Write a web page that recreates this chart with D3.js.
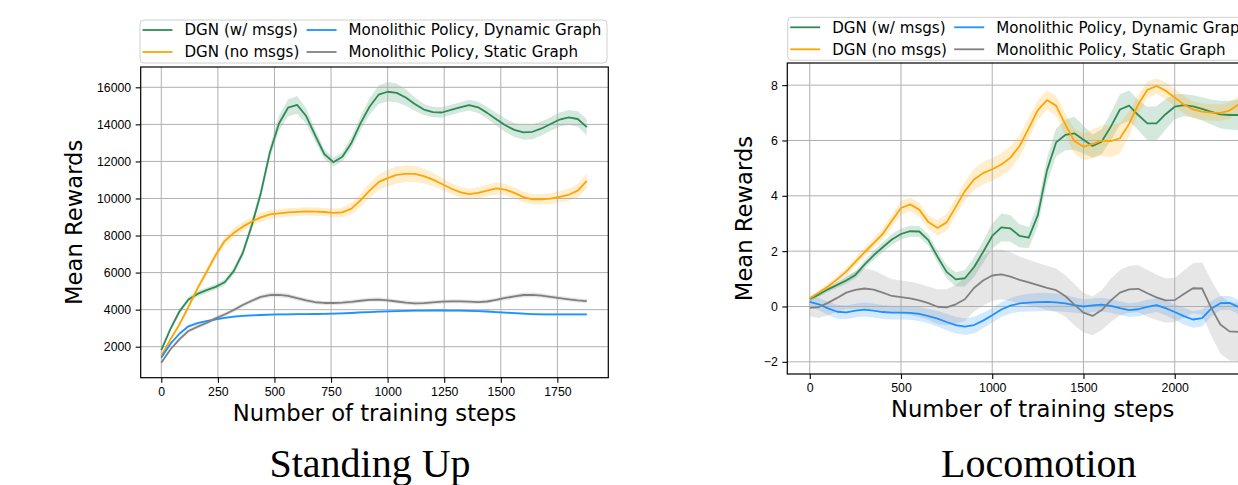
<!DOCTYPE html>
<html lang="en">
<head>
<meta charset="utf-8">
<title>DGN training curves</title>
<style>
    body {
        margin: 0;
        background: #fff;
        overflow: hidden;
    }
    svg {
        display: block;
        font-family: "DejaVu Sans", sans-serif;
    }
    .axis .tick text {
        font-size: 12.3px;
        fill: #000;
    }
    .axis .tick line {
        stroke: #000;
        stroke-width: 1.1;
    }
    .grid line {
        stroke: #b0b0b0;
        stroke-width: 1;
    }
    .label {
        font-size: 22.7px;
        fill: #000;
    }
    .title {
        font-family: "Liberation Serif", "Times New Roman", serif;
        font-size: 40px;
        fill: #000;
    }
    .legend text {
        font-size: 15.1px;
        fill: #000;
    }
</style>
</head>
<body>
<script src="https://cdn.jsdelivr.net/npm/d3@7"></script>
<script>
    // legend / series
    var seriesNames = ["DGN (w/ msgs)", "DGN (no msgs)", "Monolithic Policy, Dynamic Graph", "Monolithic Policy, Static Graph"];
    var seriesColors = ["#2e8b57", "#ffa500", "#1e90ff", "#808080"];

    // Standing Up: one point every 40 steps, 0..1880
    var standSteps = d3.range(0, 1881, 40);
    var standGreen = [1820, 2950, 3900, 4550, 4850, 5050, 5230, 5480, 6080, 7060, 8550, 10300, 12500, 14050, 14900, 15050,
        14450, 13400, 12400, 11960, 12250, 13000, 14050, 14950, 15600, 15760, 15700, 15450, 15100, 14800, 14660, 14640,
        14780, 14920, 15040, 14920, 14620, 14280, 13950, 13700, 13570, 13600, 13780, 14020, 14260, 14380, 14290, 13850];
    var standGreenSd = [100, 120, 140, 150, 150, 150, 150, 160, 180, 220, 260, 300, 340, 400, 460, 480,
        420, 330, 260, 240, 260, 320, 380, 440, 500, 520, 500, 440, 360, 300, 280, 280,
        280, 280, 290, 300, 320, 340, 360, 380, 400, 400, 380, 370, 380, 400, 420, 440];
    var standOrange = [1500, 2380, 3200, 4150, 5150, 6030, 6940, 7700, 8140, 8480, 8760, 8980, 9140, 9200, 9250, 9280,
        9300, 9290, 9270, 9220, 9250, 9450, 9900, 10420, 10880, 11100, 11270, 11330, 11330, 11210, 11020, 10780,
        10540, 10340, 10240, 10300, 10430, 10540, 10480, 10300, 10070, 9950, 9950, 9990, 10090, 10200, 10420, 10950];
    var standOrangeSd = [80, 100, 120, 140, 160, 180, 200, 220, 240, 250, 250, 250, 240, 230, 220, 220,
        220, 220, 220, 230, 260, 300, 340, 380, 420, 450, 460, 460, 440, 400, 360, 320,
        300, 290, 290, 300, 310, 320, 310, 300, 290, 280, 280, 290, 300, 320, 360, 420];
    var standBlue = [1400, 2150, 2700, 3100, 3270, 3380, 3480, 3560, 3620, 3660, 3690, 3710, 3730, 3740, 3750, 3755,
        3760, 3765, 3770, 3780, 3795, 3820, 3850, 3870, 3890, 3910, 3925, 3935, 3945, 3950, 3955, 3955,
        3950, 3945, 3935, 3920, 3900, 3870, 3840, 3810, 3780, 3760, 3750, 3745, 3740, 3740, 3740, 3740];
    var standBlueSd = [50, 60, 60, 60, 60, 60, 60, 60, 60, 60, 60, 60, 60, 60, 60, 60,
        60, 60, 60, 60, 60, 60, 60, 60, 60, 60, 60, 60, 60, 60, 60, 60,
        60, 60, 60, 60, 60, 60, 60, 60, 60, 60, 60, 60, 60, 60, 60, 60];
    var standGray = [1140, 1850, 2400, 2850, 3080, 3280, 3530, 3740, 3980, 4250, 4480, 4690, 4790, 4800, 4740, 4620,
        4500, 4400, 4360, 4360, 4380, 4420, 4480, 4530, 4540, 4500, 4440, 4380, 4340, 4350, 4390, 4430,
        4450, 4450, 4430, 4410, 4440, 4530, 4630, 4720, 4790, 4800, 4760, 4690, 4620, 4560, 4500, 4460];
    var standGraySd = [90, 100, 110, 110, 110, 110, 110, 110, 120, 120, 120, 120, 130, 130, 130, 120,
        120, 110, 110, 110, 110, 110, 110, 110, 110, 110, 110, 110, 110, 110, 110, 110,
        110, 110, 110, 110, 110, 110, 120, 120, 130, 130, 120, 120, 110, 110, 110, 110];

    // Locomotion: one point every 50 steps, 0..2450
    var locoSteps = d3.range(0, 2451, 50);
    var locoGreen = [0.27, 0.43, 0.62, 0.78, 0.94, 1.14, 1.51, 1.85, 2.14, 2.42, 2.62, 2.72, 2.71, 2.40, 1.80, 1.25,
        0.98, 1.02, 1.42, 1.97, 2.55, 2.86, 2.82, 2.55, 2.49, 3.30, 4.92, 5.93, 6.20, 6.26, 6.03, 5.80,
        5.96, 6.50, 7.12, 7.26, 6.92, 6.62, 6.62, 6.95, 7.22, 7.28, 7.23, 7.14, 7.03, 6.94, 6.92, 6.92, 6.93, 6.95];
    var locoGreenSd = [0.08, 0.09, 0.10, 0.11, 0.12, 0.13, 0.15, 0.17, 0.18, 0.19, 0.20, 0.20, 0.20, 0.20, 0.22, 0.24,
        0.26, 0.30, 0.35, 0.40, 0.45, 0.50, 0.48, 0.42, 0.38, 0.40, 0.45, 0.50, 0.55, 0.60, 0.50, 0.42,
        0.45, 0.50, 0.55, 0.55, 0.55, 0.60, 0.62, 0.55, 0.45, 0.40, 0.40, 0.42, 0.45, 0.50, 0.52, 0.55, 0.55, 0.55];
    var locoOrange = [0.29, 0.51, 0.72, 0.98, 1.26, 1.61, 1.96, 2.29, 2.62, 3.10, 3.56, 3.69, 3.50, 3.05, 2.84, 3.04,
        3.60, 4.17, 4.59, 4.82, 4.96, 5.13, 5.38, 5.80, 6.44, 7.10, 7.46, 7.26, 6.58, 5.98, 5.77, 5.88,
        5.99, 5.98, 6.08, 6.60, 7.30, 7.83, 7.97, 7.80, 7.55, 7.30, 7.12, 7.04, 7.01, 7.00, 7.08, 7.30, 7.45, 7.55];
    var locoOrangeSd = [0.06, 0.08, 0.10, 0.12, 0.14, 0.15, 0.17, 0.18, 0.20, 0.22, 0.25, 0.25, 0.25, 0.25, 0.28, 0.30,
        0.32, 0.35, 0.38, 0.40, 0.42, 0.42, 0.42, 0.40, 0.38, 0.36, 0.35, 0.36, 0.40, 0.45, 0.48, 0.52,
        0.55, 0.58, 0.55, 0.45, 0.35, 0.30, 0.28, 0.30, 0.32, 0.32, 0.30, 0.30, 0.30, 0.30, 0.30, 0.30, 0.30, 0.30];
    var locoBlue = [0.17, 0.08, -0.07, -0.19, -0.21, -0.15, -0.11, -0.15, -0.20, -0.22, -0.22, -0.23, -0.27, -0.35, -0.44, -0.56,
        -0.67, -0.73, -0.67, -0.51, -0.32, -0.11, 0.03, 0.11, 0.14, 0.16, 0.17, 0.15, 0.11, 0.05, 0.00, 0.04,
        0.07, 0.02, -0.06, -0.13, -0.10, -0.01, 0.05, -0.06, -0.20, -0.35, -0.47, -0.42, -0.08, 0.12, 0.13, -0.02, -0.10, -0.12];
    var locoBlueSd = [0.20, 0.22, 0.24, 0.25, 0.25, 0.25, 0.25, 0.25, 0.25, 0.25, 0.25, 0.25, 0.25, 0.26, 0.28, 0.30,
        0.30, 0.30, 0.30, 0.28, 0.26, 0.26, 0.28, 0.30, 0.32, 0.33, 0.33, 0.32, 0.30, 0.28, 0.26, 0.25,
        0.25, 0.25, 0.25, 0.25, 0.25, 0.25, 0.25, 0.26, 0.28, 0.30, 0.30, 0.30, 0.28, 0.26, 0.25, 0.25, 0.25, 0.25];
    var locoGray = [-0.05, -0.02, 0.13, 0.31, 0.50, 0.60, 0.65, 0.61, 0.50, 0.38, 0.34, 0.29, 0.22, 0.12, -0.01, -0.03,
        0.08, 0.26, 0.67, 0.94, 1.12, 1.16, 1.08, 0.96, 0.87, 0.77, 0.67, 0.59, 0.38, 0.07, -0.22, -0.34,
        -0.13, 0.22, 0.50, 0.62, 0.64, 0.48, 0.33, 0.22, 0.23, 0.45, 0.66, 0.65, -0.05, -0.65, -0.90, -0.92, -0.85, -0.80];
    var locoGraySd = [0.30, 0.40, 0.45, 0.50, 0.60, 0.68, 0.72, 0.70, 0.65, 0.60, 0.60, 0.60, 0.60, 0.60, 0.62, 0.65,
        0.70, 0.78, 0.85, 0.90, 0.92, 0.90, 0.88, 0.85, 0.82, 0.80, 0.80, 0.78, 0.75, 0.75, 0.72, 0.70,
        0.72, 0.78, 0.82, 0.85, 0.85, 0.85, 0.82, 0.80, 0.80, 0.85, 0.90, 0.95, 1.00, 1.05, 1.05, 1.05, 1.05, 1.05];

    // ticks (the 2500 tick of Locomotion lies past the picture's right edge)
    var standXTicks = [0, 250, 500, 750, 1000, 1250, 1500, 1750];
    var standYTicks = [2000, 4000, 6000, 8000, 10000, 12000, 14000, 16000];
    var locoXTicks = [0, 500, 1000, 1500, 2000];
    var locoYTicks = [-2, 0, 2, 4, 6, 8];

    var svg = d3.select("body").append("svg")
        .attr("width", 1238)
        .attr("height", 485);

    function drawPanel(p) {
        var x = d3.scaleLinear().domain(p.xDomain).range([p.left, p.right]);
        var y = d3.scaleLinear().domain(p.yDomain).range([p.bottom, p.top]);
        var g = svg.append("g");

        var series = p.means.map(function(m, k) {
            return p.steps.map(function(s, i) {
                return { x: s, y: m[i], sd: p.sds[k][i] };
            });
        });

        var area = d3.area()
            .x(function(d) { return x(d.x); })
            .y0(function(d) { return y(d.y - d.sd); })
            .y1(function(d) { return y(d.y + d.sd); });

        var line = d3.line()
            .x(function(d) { return x(d.x); })
            .y(function(d) { return y(d.y); });

        g.selectAll(".band")
            .data(series)
            .enter().append("path")
            .attr("class", "band")
            .attr("d", area)
            .style("fill", function(d, i) { return seriesColors[i]; })
            .style("fill-opacity", 0.2)
            .style("stroke", "none");

        // grid above the bands, below the lines
        var grid = g.append("g").attr("class", "grid");
        grid.selectAll(".gx")
            .data(p.xTicks)
            .enter().append("line")
            .attr("x1", function(d) { return x(d); })
            .attr("x2", function(d) { return x(d); })
            .attr("y1", p.top)
            .attr("y2", p.bottom);
        grid.selectAll(".gy")
            .data(p.yTicks)
            .enter().append("line")
            .attr("x1", p.left)
            .attr("x2", p.right)
            .attr("y1", function(d) { return y(d); })
            .attr("y2", function(d) { return y(d); });

        g.selectAll(".curve")
            .data(series)
            .enter().append("path")
            .attr("class", "curve")
            .attr("d", line)
            .style("fill", "none")
            .style("stroke", function(d, i) { return seriesColors[i]; })
            .style("stroke-width", 1.8)
            .style("stroke-linejoin", "round");

        var xAxis = d3.axisBottom(x).tickValues(p.xTicks).tickSize(5).tickPadding(4.5).tickFormat(d3.format("d"));
        var yAxis = d3.axisLeft(y).tickValues(p.yTicks).tickSize(5).tickPadding(4.5).tickFormat(d3.format("d"));

        g.append("g")
            .attr("class", "axis")
            .attr("transform", "translate(0," + p.bottom + ")")
            .call(xAxis)
            .call(function(a) { a.select(".domain").remove(); });

        g.append("g")
            .attr("class", "axis")
            .attr("transform", "translate(" + p.left + ",0)")
            .call(yAxis)
            .call(function(a) { a.select(".domain").remove(); });

        g.append("rect")
            .attr("x", p.left)
            .attr("y", p.top)
            .attr("width", p.right - p.left)
            .attr("height", p.bottom - p.top)
            .style("fill", "none")
            .style("stroke", "#000")
            .style("stroke-width", 1.2);

        g.append("text")
            .attr("class", "label")
            .attr("x", (p.left + p.right) / 2)
            .attr("y", p.bottom + 43)
            .attr("text-anchor", "middle")
            .text("Number of training steps");

        g.append("text")
            .attr("class", "label")
            .attr("transform", "translate(" + (p.left - p.yLabelGap) + "," + ((p.top + p.bottom) / 2) + ") rotate(-90)")
            .attr("text-anchor", "middle")
            .text("Mean Rewards");

        g.append("text")
            .attr("class", "title")
            .attr("x", p.titleX)
            .attr("y", 476.5)
            .attr("text-anchor", "middle")
            .text(p.title);

        // legend, two columns
        var legend = g.append("g")
            .attr("class", "legend")
            .attr("transform", "translate(" + p.legendX + "," + p.legendY + ")");

        legend.append("rect")
            .attr("width", 467)
            .attr("height", 43)
            .attr("rx", 4)
            .style("fill", "#fff")
            .style("fill-opacity", 0.8)
            .style("stroke", "#d0d0d0")
            .style("stroke-width", 1);

        var item = legend.selectAll(".item")
            .data(seriesNames)
            .enter().append("g")
            .attr("class", "item")
            .attr("transform", function(d, i) {
                return "translate(" + (i < 2 ? 0 : 164) + "," + (i % 2 === 0 ? 10 : 32) + ")";
            });

        item.append("line")
            .attr("x1", 2.5)
            .attr("x2", 32.5)
            .style("stroke", function(d, i) { return seriesColors[i]; })
            .style("stroke-width", 1.8);

        item.append("text")
            .attr("x", 44.5)
            .attr("dy", "0.35em")
            .text(function(d) { return d; });
    }

    drawPanel({
        steps: standSteps,
        means: [standGreen, standOrange, standBlue, standGray],
        sds: [standGreenSd, standOrangeSd, standBlueSd, standGraySd],
        xDomain: [-91, 1975], yDomain: [327, 17096],
        xTicks: standXTicks, yTicks: standYTicks,
        left: 140.7, right: 608.3, top: 67, bottom: 377.7,
        yLabelGap: 58.5, titleX: 370, title: "Standing Up",
        legendX: 140, legendY: 20
    });

    drawPanel({
        steps: locoSteps,
        means: [locoGreen, locoOrange, locoBlue, locoGray],
        sds: [locoGreenSd, locoOrangeSd, locoBlueSd, locoGraySd],
        xDomain: [-123, 2566], yDomain: [-2.44, 8.8],
        xTicks: locoXTicks, yTicks: locoYTicks,
        left: 787.3, right: 1278, top: 63, bottom: 374,
        yLabelGap: 35.8, titleX: 1038.8, title: "Locomotion",
        legendX: 787.7, legendY: 17.3
    });
</script>
</body>
</html>
